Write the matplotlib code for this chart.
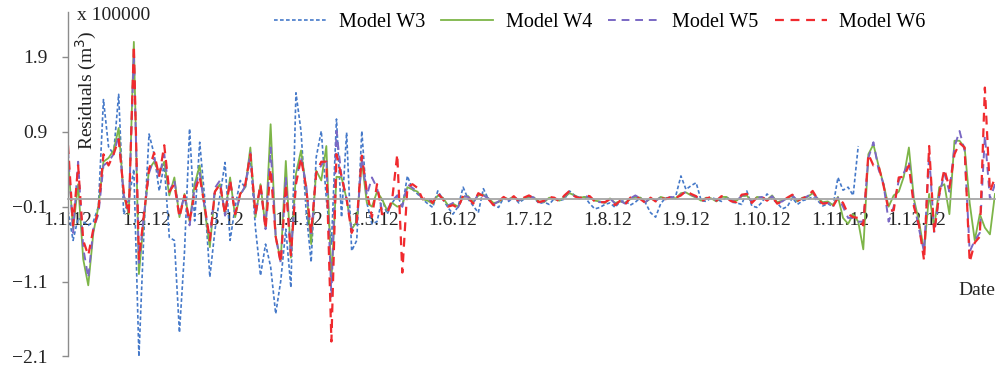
import numpy as np
import pandas as pd
import matplotlib
matplotlib.use("Agg")
import matplotlib.pyplot as plt

plt.rcParams['font.family'] = ['Liberation Serif', 'DejaVu Serif']

# residuals every second day of 2012 (x 100000 m3)
dates = pd.date_range('2012-01-01', periods=184, freq='2D')

w3 = [-0.15, -0.55, -0.25, -0.30, -0.35, -0.30, -0.10, 1.33, 0.70, 0.60,
      1.40, -0.20, 0.00, 0.40, -2.10, -0.42, 0.87, 0.60, 0.11, 0.47,
      -0.51, -0.55, -1.78, -0.70, 0.94, -0.29, 0.76, 0.00, -1.04, -0.42,
      0.05, 0.49, -0.55, -0.10, 0.25, 0.15, 0.56, -0.38, -1.02, -0.60,
      -0.90, -1.53, -1.09, -0.40, -1.18, 1.42, 0.91, -0.15, -0.84, 0.56,
      0.91, 0.00, -0.60, 1.07, -0.24, 0.89, -0.69, -0.55, 0.91, -0.05,
      -0.33, -0.30, 0.00, -0.20, -0.05, 0.05, -0.10, 0.31, 0.13, 0.07,
      0.00, -0.06, -0.11, 0.11, 0.00, -0.11, -0.20, -0.10, 0.16, 0.00,
      -0.09, -0.18, 0.14, 0.00, -0.08, -0.11, 0.02, -0.03, 0.03, -0.05,
      0.00, 0.04, 0.02, -0.06, -0.04, -0.07, 0.01, -0.02, 0.00, 0.11,
      0.05, 0.02, 0.03, -0.06, -0.13, -0.11, -0.07, -0.05, -0.11, -0.03,
      -0.02, -0.08, -0.04, 0.02, -0.05, -0.18, -0.24, -0.06, 0.02, 0.00,
      0.05, 0.31, 0.13, 0.18, 0.22, -0.02, -0.03, 0.02, 0.00, -0.03,
      0.03, -0.04, -0.05, -0.07, 0.11, -0.09, -0.11, -0.04, 0.07, 0.00,
      -0.05, -0.13, -0.10, 0.02, -0.07, -0.02, 0.00, 0.03, -0.02, -0.09,
      -0.06, -0.10, 0.29, 0.12, 0.16, 0.05, 0.71] + [np.nan] * 27

w4 = [0.55, -0.40, 0.20, -0.80, -1.15, -0.45, -0.10, 0.50, 0.55, 0.65,
      0.95, 0.05, -0.20, 2.10, -1.00, -0.25, 0.40, 0.50, 0.35, 0.50,
      0.05, 0.29, -0.24, 0.07, -0.30, 0.20, 0.45, -0.15, -0.64, 0.10,
      0.20, -0.20, 0.29, -0.24, 0.07, 0.16, 0.69, -0.24, 0.20, -0.38,
      1.00, -0.50, -0.82, 0.51, -0.78, 0.34, 0.65, 0.16, -0.60, 0.38,
      0.25, 0.71, -1.09, 0.30, 0.29, 0.00, -0.40, -0.30, 0.51, -0.05,
      -0.10, 0.10, 0.00, -0.15, -0.05, -0.10, -0.08, 0.16, 0.13, 0.10,
      0.00, -0.02, -0.06, 0.05, 0.02, -0.08, -0.06, -0.10, 0.03, 0.04,
      -0.04, 0.05, 0.06, 0.01, -0.05, -0.04, 0.02, 0.00, 0.03, -0.02,
      0.01, 0.03, 0.02, -0.03, -0.04, 0.02, 0.00, -0.02, 0.03, 0.08,
      0.05, 0.02, 0.03, 0.02, -0.02, -0.03, -0.05, 0.01, -0.05, -0.03,
      -0.05, 0.00, 0.03, 0.02, -0.04, 0.01, -0.02, 0.03, 0.01, 0.02,
      0.01, 0.08, 0.09, 0.05, 0.02, -0.02, 0.02, 0.01, -0.03, 0.03,
      0.03, -0.02, -0.02, 0.04, 0.05, -0.04, 0.03, 0.02, -0.01, 0.05,
      -0.04, -0.02, 0.01, 0.05, -0.03, 0.02, 0.03, 0.08, 0.01, -0.04,
      -0.03, -0.08, 0.03, -0.25, -0.33, -0.20, -0.30, -0.67, 0.60, 0.73,
      0.45, 0.20, -0.10, 0.05, 0.10, 0.30, 0.69, 0.00, -0.30, -0.69,
      0.07, -0.38, 0.16, 0.20, -0.20, 0.78, 0.78, 0.69, -0.05, -0.55,
      -0.20, -0.38, -0.47, 0.07]

w5 = [0.65, -0.45, 0.50, -0.65, -1.05, -0.40, -0.20, 0.45, 0.50, 0.60,
      0.85, 0.05, -0.15, 1.95, -0.85, -0.20, 0.35, 0.55, 0.30, 0.60,
      0.10, 0.25, -0.20, 0.05, -0.35, 0.15, 0.35, -0.12, -0.55, 0.15,
      0.25, -0.22, 0.25, -0.20, 0.05, 0.18, 0.62, -0.22, 0.18, -0.40,
      0.69, -0.50, -0.85, 0.30, -0.75, 0.25, 0.55, 0.20, -0.50, 0.35,
      0.45, 0.55, -1.30, 0.91, 0.30, 0.00, -0.40, -0.35, 0.55, 0.05,
      0.29, 0.15, -0.15, -0.15, -0.02, 0.05, -0.10, 0.20, 0.15, 0.10,
      0.00, 0.00, -0.04, 0.06, 0.01, -0.09, -0.05, -0.11, 0.04, 0.03,
      -0.05, 0.07, 0.05, 0.01, -0.07, -0.03, 0.02, -0.01, 0.04, -0.02,
      0.02, 0.04, 0.02, -0.04, -0.03, 0.02, 0.01, -0.02, 0.04, 0.10,
      0.04, 0.02, 0.04, 0.03, -0.02, -0.04, -0.04, 0.01, -0.06, -0.02,
      -0.06, 0.01, 0.05, 0.01, -0.04, 0.02, -0.02, 0.02, 0.01, 0.03,
      0.02, 0.06, 0.10, 0.06, 0.03, -0.02, 0.01, 0.02, -0.02, 0.03,
      0.02, -0.02, -0.03, 0.05, 0.06, -0.04, 0.02, 0.03, -0.02, 0.04,
      -0.05, -0.03, 0.02, 0.05, -0.02, 0.01, 0.04, 0.09, 0.00, -0.05,
      -0.05, -0.09, 0.02, -0.10, -0.25, -0.25, -0.30, -0.30, 0.55, 0.76,
      0.40, 0.20, -0.30, -0.10, 0.25, 0.35, 0.50, -0.05, -0.40, -0.70,
      0.60, -0.45, 0.05, 0.35, 0.10, 0.70, 0.91, 0.65, -0.70, -0.55,
      -0.45, 0.85, 0.00, 0.20]

w6 = [0.72, -0.35, 0.45, -0.55, -0.75, -0.40, -0.15, 0.60, 0.45, 0.60,
      0.80, 0.10, -0.20, 2.05, -0.80, -0.20, 0.40, 0.62, 0.30, 0.72,
      0.10, 0.20, -0.24, 0.05, -0.30, 0.10, 0.30, -0.10, -0.55, 0.10,
      0.20, -0.20, 0.25, -0.20, 0.07, 0.20, 0.60, -0.20, 0.20, -0.40,
      0.40, -0.50, -0.85, 0.20, -0.75, 0.20, 0.55, 0.16, -0.45, 0.35,
      0.50, 0.50, -1.90, 0.60, 0.30, 0.00, -0.45, -0.30, 0.58, 0.10,
      -0.24, 0.20, -0.20, -0.20, 0.00, 0.60, -0.98, 0.16, 0.20, 0.15,
      0.00, 0.02, -0.05, 0.08, 0.00, -0.10, -0.08, -0.12, 0.05, 0.02,
      -0.06, 0.08, 0.04, 0.00, -0.08, -0.03, 0.03, -0.02, 0.04, -0.03,
      0.02, 0.05, 0.01, -0.04, -0.02, 0.03, 0.02, -0.03, 0.05, 0.11,
      0.04, 0.01, 0.05, 0.04, -0.03, -0.04, -0.04, 0.00, -0.08, -0.02,
      -0.07, 0.02, 0.04, 0.00, -0.05, 0.02, -0.03, 0.02, 0.00, 0.03,
      0.02, 0.05, 0.11, 0.07, 0.04, -0.03, 0.01, 0.03, -0.02, 0.04,
      0.02, -0.03, -0.04, 0.06, 0.07, -0.05, 0.02, 0.03, -0.02, 0.04,
      -0.06, -0.03, 0.02, 0.06, -0.02, 0.01, 0.04, 0.11, 0.00, -0.06,
      -0.05, -0.10, 0.02, -0.05, -0.20, -0.24, -0.25, -0.35, 0.60, 0.45,
      0.45, 0.18, -0.15, -0.15, 0.29, 0.30, 0.45, -0.10, -0.35, -0.82,
      0.71, -0.45, 0.07, 0.40, 0.15, 0.60, 0.75, 0.69, -0.84, -0.58,
      -0.50, 1.49, 0.10, 0.29]

month_ticks = pd.date_range('2012-01-01', periods=12, freq='MS')
month_labels = ['1.1.12', '1.2.12', '1.3.12', '1.4.12', '1.5.12', '1.6.12',
                '1.7.12', '1.8.12', '1.9.12', '1.10.12', '1.11.12', '1.12.12']
yticks = [-2.1, -1.1, -0.1, 0.9, 1.9]
ylabels = ['\u22122.1', '\u22121.1', '\u22120.1', '0.9', '1.9']

fig = plt.figure(figsize=(10, 3.72), dpi=100)
ax = fig.add_axes([0.068, 0.0417, 0.927, 0.9263])

ax.plot(dates, w3, color='#4579C9', lw=1.2, dashes=(2.2, 1.4), label='Model W3')
ax.plot(dates, w4, color='#7DB548', lw=1.3, label='Model W4')
ax.plot(dates, w5, color='#7A68C4', lw=1.4, dashes=(4, 3), label='Model W5')
ax.plot(dates, w6, color='#F02A2E', lw=1.6, dashes=(4, 3), label='Model W6')

ax.set_xlim(pd.Timestamp('2012-01-01'), pd.Timestamp('2013-01-01'))
ax.set_ylim(-2.1, 2.5)

ax.spines['top'].set_visible(False)
ax.spines['right'].set_visible(False)
ax.spines['bottom'].set_position(('data', 0))
ax.spines['bottom'].set_color('#A6A6A6')
ax.spines['bottom'].set_linewidth(1.3)
ax.spines['left'].set_color('#8C8C8C')
ax.spines['left'].set_linewidth(1.0)
ax.set_axisbelow(True)

ax.set_xticks(month_ticks)
ax.set_xticklabels(month_labels)
ax.tick_params(axis='x', length=0, pad=9, labelsize=14, colors='#222222')
ax.set_yticks(yticks)
ax.set_yticklabels(ylabels)
ax.tick_params(axis='y', length=4.5, width=1, color='#8C8C8C', pad=10,
               labelsize=14, labelcolor='#222222')

fig.text(0.086, 0.758, 'Residuals (m$^3$)', rotation=90, ha='center', va='center',
         fontsize=14, color='#222222')
fig.text(0.077, 0.958, 'x 100000', ha='left', va='center', fontsize=14, color='#222222')
fig.text(0.995, 0.22, 'Date', ha='right', va='center', fontsize=14, color='#222222')

fig.legend(loc='center', bbox_to_anchor=(0.6, 0.94), ncol=4, frameon=False,
           fontsize=14.5, handlelength=2.6, handletextpad=0.6, columnspacing=0.8)

fig.savefig('out.png', dpi=100)
